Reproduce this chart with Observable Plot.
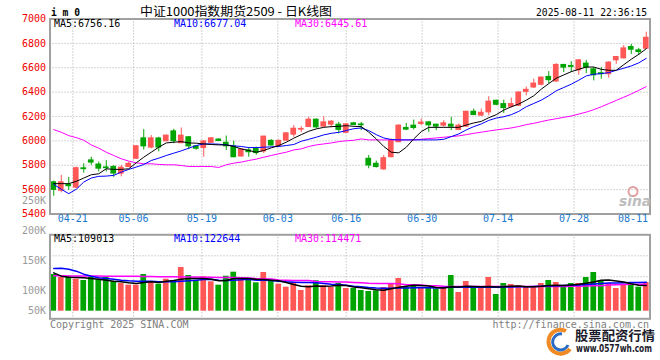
<!DOCTYPE html>
<html><head><meta charset="utf-8">
<script src="https://cdn.jsdelivr.net/npm/d3@7"></script>
<script src="https://cdn.jsdelivr.net/npm/@observablehq/plot@0.6"></script>
<style>
body{margin:0;background:#fff;}
#wrap{position:relative;width:660px;height:360px;overflow:hidden;background:#fff;}
#wrap svg{position:absolute;left:0;top:0;}
</style></head><body><div id="wrap"></div>
<script>
// ---- data ----
const tickLabels = ["04-21","05-06","05-19","06-03","06-16","06-30","07-14","07-28","08-11"];
const tickIndex  = [3, 11, 20, 30, 39, 49, 59, 69, 79];
const priceTicks = [5400, 5600, 5800, 6000, 6200, 6400, 6600, 6800, 7000];
const volTickValues = [250000, 200000, 150000, 100000, 50000];

const open = [5660,5590,5640,5616,5775,5840,5806,5782,5786,5731,
5786,5853,6021,5945,6020,5997,6078,5981,6030,5955,
5942,5984,6011,5984,5953,5872,5922,5933,5913,6000,
5955,6002,6051,6092,6114,6174,6117,6133,6133,6066,
6144,6135,5853,5812,5766,5866,5989,6106,6125,6139,
6152,6133,6125,6133,6090,6117,6239,6207,6234,6329,
6302,6280,6288,6402,6438,6460,6525,6487,6623,6615,
6579,6634,6587,6555,6547,6661,6677,6770,6743,6756];
const high = [5670,5717,5700,5785,5812,5866,5826,5838,5798,5798,
5825,5960,6092,6043,6030,6048,6095,6106,6035,5960,
6003,6028,6018,6040,5997,5935,5945,5948,6038,6010,
6008,6068,6125,6117,6193,6180,6198,6166,6152,6142,
6152,6152,5880,5834,5880,6016,6133,6144,6171,6179,
6155,6136,6166,6193,6139,6242,6261,6261,6362,6334,
6334,6351,6402,6443,6506,6525,6568,6634,6628,6650,
6666,6661,6601,6601,6650,6692,6783,6791,6759,6892];
const low = [5546,5574,5592,5610,5735,5800,5745,5745,5700,5705,
5780,5850,5925,5935,5910,5993,5978,5976,5928,5925,
5866,5980,5994,5921,5860,5866,5866,5882,5895,5958,
5945,5997,6030,6068,6111,6098,6111,6106,6057,6060,
6125,6084,5771,5777,5758,5861,5984,6084,6090,6125,
6071,6084,6111,6084,6084,6111,6207,6201,6206,6288,
6225,6269,6283,6370,6430,6451,6470,6481,6560,6560,
6538,6552,6492,6506,6514,6628,6672,6710,6702,6751];
const close = [5598,5660,5628,5776,5768,5822,5772,5776,5732,5780,
5812,5956,5955,6021,5945,6043,5998,6043,5955,5935,
5995,6021,5999,5955,5866,5929,5907,5900,6035,5962,
6000,6062,6100,6098,6174,6111,6152,6158,6090,6136,
6130,6128,5798,5785,5858,6003,6125,6092,6106,6150,
6128,6117,6144,6117,6125,6239,6212,6231,6322,6296,
6269,6302,6397,6419,6470,6519,6498,6623,6601,6607,
6661,6601,6538,6547,6642,6688,6759,6748,6729,6846];

const ma5 = [5649,5649,5649,5668,5695,5722,5730,5771,5766,5766,
5771,5820,5866,5907,5948,5983,5989,5994,5983,5981,
5975,5970,5967,5967,5954,5934,5921,5907,5921,5943,
5962,5989,6022,6051,6079,6098,6111,6117,6119,6125,
6119,6117,6071,6016,5954,5907,5902,5948,6016,6076,
6111,6111,6111,6111,6111,6130,6147,6160,6190,6215,
6253,6280,6302,6334,6370,6424,6470,6514,6541,6568,
6587,6606,6606,6587,6579,6579,6625,6670,6710,6756.16];
const ma10 = [5643,5603,5567,5603,5662,5695,5709,5711,5717,5744,
5766,5785,5806,5839,5858,5880,5899,5918,5940,5962,
5975,5975,5973,5967,5959,5954,5945,5945,5948,5951,
5954,5962,5970,5997,6013,6030,6049,6062,6070,6085,
6100,6106,6084,6051,6024,6011,6008,6008,6008,6008,
6008,6008,6013,6035,6057,6090,6117,6139,6168,6187,
6198,6215,6242,6280,6307,6334,6370,6411,6438,6465,
6498,6533,6547,6552,6560,6579,6596,6615,6640,6677.04];
const ma30 = [6092,6071,6043,6027,6005,5967,5940,5907,5880,5853,
5834,5820,5812,5812,5807,5804,5804,5798,5790,5790,
5790,5790,5782,5804,5817,5826,5839,5850,5866,5880,
5894,5907,5926,5934,5954,5967,5975,5983,5994,6001,
6005,6016,6008,6008,6008,6008,6008,6008,6008,6013,
6019,6024,6030,6035,6041,6051,6062,6071,6081,6090,
6098,6106,6118,6133,6144,6158,6171,6182,6193,6204,
6220,6236,6256,6280,6306,6332,6358,6385,6414,6445.61];

const volume = [155500,142800,148300,135600,130100,142800,134300,142800,124600,117400,
110200,110200,155500,124600,114400,135600,124600,185200,151300,128800,
145800,124600,110200,148300,165300,138600,138600,120300,164000,128800,
114400,101700,120300,87700,107600,128800,107600,100400,117400,96200,
96200,87700,83500,86400,100400,117400,138600,103400,107600,96200,
99200,93200,96200,151300,79200,125800,99200,99200,142800,70800,
117400,113100,107600,101700,101700,117400,130100,121600,101700,117400,
117400,142800,164000,130100,117400,96200,114400,114400,101700,121600];
const vma5 = [162500,148400,144200,142800,141400,138500,135700,131500,127200,124400,
120200,117400,121600,124400,121600,127200,130100,135700,138500,138500,
138500,135700,128700,130100,138500,138500,138500,135700,134300,131500,
128700,121600,113100,106000,103200,107000,106000,107000,110000,109000,
103000,99000,95000,91000,89000,95000,101000,106000,110000,109000,
107000,100000,98000,104000,103000,106000,105000,104000,105000,103000,
104000,106000,107000,104000,104000,106000,109000,110000,109000,111000,
114000,118000,124000,131000,132000,128000,124000,116000,110000,109013];
const vma10 = [180900,182300,178100,169600,156900,148400,141400,138500,135700,131500,
128700,127200,127200,127200,124400,124400,124400,127200,128700,131500,
134300,135700,131500,130100,131500,132900,135700,131500,131500,130100,
127200,124400,123000,121600,121600,120200,117400,114500,113100,110300,
106000,104000,100000,98000,97000,97000,98000,98000,99000,100000,
99000,98000,100000,102000,101000,102000,102000,101000,103000,102000,
103000,103000,104000,104000,105000,106000,107000,108000,109000,110000,
111000,113000,115000,117000,119000,120000,121000,122000,122000,122644];
const vma30 = [150000,149800,149600,149400,149200,149000,148800,148600,148400,148200,
148000,147600,147200,146800,146400,146000,145600,145200,144800,144400,
144000,143600,143200,142800,142400,142000,141000,138000,137000,136000,
132000,131000,130500,130000,130000,126000,125000,124500,124000,123500,
122000,121000,118000,117000,117000,117000,116000,112000,112000,111000,
108000,108000,106000,105000,105000,105000,104600,104600,104600,104600,
104600,104600,104600,104600,104600,104600,104600,104600,104600,105500,
106000,107000,108000,108000,111000,112000,113000,114000,114300,114471];

// ---- derived tables ----
const RED = "#ff5656", GREEN = "#00a400";
const N = close.length;
const candles = d3.range(N).map(i => ({i, o: open[i], h: high[i], l: low[i], c: close[i], v: volume[i],
  col: close[i] >= open[i] ? RED : GREEN}));
// sina spaces its date grid over (N-1) intervals of the plot width
const xTicks = tickIndex.map((k, j) => ({label: tickLabels[j], pos: k * N / (N - 1)}));
const priceGrid = priceTicks.slice(1, -1);
const MONO = "DejaVu Sans Mono";
const dotted = {stroke: "#aaa", strokeDasharray: "1,2"};
const common = {width: 660, height: 360, marginLeft: 49.5, marginRight: 10.5,
  style: {background: "transparent", overflow: "visible", fontFamily: MONO, fontSize: "10px"}};
const idx = (d, i) => i + 0.5;
const wrap = document.getElementById("wrap");

// ---- volume axis labels (sina clamps the lowest label to the bar baseline) ----
wrap.append(Plot.plot({...common, marginTop: 200, marginBottom: 49.3,
  x: {domain: [0, N], axis: null},
  y: {domain: [65500, 250000], clamp: true, axis: null},
  marks: [Plot.text(volTickValues, {y: d => d, text: d => d / 1000 + "K", frameAnchor: "left",
    textAnchor: "end", dx: -4, fill: "#9a9a9a", fontSize: 10, fontFamily: MONO})]
}));

// ---- volume panel ----
const volDomain = [-32200, 323700];
const volGrid = [1, 2, 3].map(k => volDomain[0] + (volDomain[1] - volDomain[0]) * k / 4);
wrap.append(Plot.plot({...common, marginTop: 234.3, marginBottom: 41.7,
  x: {domain: [0, N], axis: null},
  y: {domain: volDomain, axis: null},
  color: {type: "identity"},
  marks: [
    Plot.ruleY(volGrid, dotted),
    Plot.ruleX(xTicks, {x: "pos", ...dotted}),
    Plot.rect(candles, {x1: "i", x2: d => d.i + 1, y1: 0, y2: "v", fill: "col", insetLeft: 0.9, insetRight: 0.9}),
    Plot.line(vma30, {x: idx, y: d => d, stroke: "#ff00ff", strokeWidth: 1.5}),
    Plot.line(vma10, {x: idx, y: d => d, stroke: "#0000ff", strokeWidth: 1.5}),
    Plot.line(vma5, {x: idx, y: d => d, stroke: "#000", strokeWidth: 1.5}),
    Plot.frame({stroke: "#a0a0a0", strokeWidth: 2})
  ]
}));

// ---- price panel ----
wrap.append(Plot.plot({...common, marginTop: 18.5, marginBottom: 146.5,
  x: {domain: [0, N], axis: null},
  y: {domain: [5400, 7000], axis: null},
  color: {type: "identity"},
  marks: [
    Plot.ruleY(priceGrid, dotted),
    Plot.ruleX(xTicks, {x: "pos", ...dotted}),
    Plot.ruleX(candles, {x: d => d.i + 0.5, y1: "l", y2: "h", stroke: "col"}),
    Plot.rect(candles, {x1: "i", x2: d => d.i + 1, y1: d => Math.min(d.o, d.c), y2: d => Math.max(d.o, d.c),
      fill: "col", insetLeft: 0.9, insetRight: 0.9, insetTop: -0.5, insetBottom: -0.5}),
    Plot.line(ma30, {x: idx, y: d => d, stroke: "#ff00ff", strokeWidth: 1}),
    Plot.line(ma10, {x: idx, y: d => d, stroke: "#0000ff", strokeWidth: 1}),
    Plot.line(ma5, {x: idx, y: d => d, stroke: "#000", strokeWidth: 1}),
    Plot.frame({stroke: "#a0a0a0", strokeWidth: 2}),
    Plot.text(priceTicks, {y: d => d, text: d => String(d), frameAnchor: "left", textAnchor: "end",
      dx: -4, fill: "#ee0000", fontSize: 10, fontFamily: MONO}),
    Plot.text(xTicks.slice(0, -1), {x: "pos", text: "label", frameAnchor: "bottom", dy: 8,
      fill: "#1a78cc", fontSize: 10, fontFamily: MONO}),
    Plot.text(xTicks.slice(-1), {x: "pos", text: "label", frameAnchor: "bottom", dy: 8, textAnchor: "end",
      dx: -2, fill: "#1a78cc", fontSize: 10, fontFamily: MONO})
  ]
}));

// ---- titles, legends and captions ----
const svg = d3.select(wrap).append("svg").attr("width", 660).attr("height", 360);
function T(x, y, s, o = {}) {
  const t = svg.append("text").attr("x", x).attr("y", y).text(s)
    .attr("font-family", o.font || MONO).attr("font-size", o.size || 10)
    .attr("fill", o.fill || "#000").attr("text-anchor", o.anchor || "start");
  if (o.weight) t.attr("font-weight", o.weight);
  if (o.style) t.attr("font-style", o.style);
  if (o.len) t.attr("textLength", o.len).attr("lengthAdjust", "spacingAndGlyphs");
  return t;
}
T(51, 16, "i m 0", {size: 11, weight: "bold", len: 29});
T(140, 15.5, "中证1000指数期货2509 - 日K线图", {font: "Noto Sans CJK SC", size: 12, len: 192});
T(536, 16, "2025-08-11 22:36:15", {size: 10.5, len: 111});
T(54, 27, "MA5:" + ma5[N - 1].toFixed(2));
T(174, 27, "MA10:" + ma10[N - 1].toFixed(2), {fill: "#0000ff"});
T(295, 27, "MA30:" + ma30[N - 1].toFixed(2), {fill: "#ff00ff"});
T(54, 241.5, "MA5:" + vma5[N - 1]);
T(174, 241.5, "MA10:" + vma10[N - 1], {fill: "#0000ff"});
T(295, 241.5, "MA30:" + vma30[N - 1], {fill: "#ff00ff"});
T(50, 327.5, "Copyright 2025 SINA.COM", {fill: "#808080"});
T(649, 327.5, "http://finance.sina.com.cn", {fill: "#808080", anchor: "end"});
// sina watermark
svg.append("circle").attr("cx", 633).attr("cy", 191.5).attr("r", 4.5).attr("fill", "none")
  .attr("stroke", "#e2a0a0").attr("stroke-width", 2);
T(619, 206, "sina", {font: "DejaVu Sans", size: 14, weight: "bold", style: "italic", fill: "#bdbdbd", len: 32});
// site watermark
svg.append("path").attr("d", "M566,331 A12,12 0 1 0 570,349").attr("fill", "none")
  .attr("stroke", "#f08a24").attr("stroke-width", 4);
svg.append("path").attr("d", "M562,334 A8,8 0 1 0 568,345").attr("fill", "none")
  .attr("stroke", "#2a6cc4").attr("stroke-width", 3);
T(575, 340, "股票配资行情", {font: "Noto Sans CJK SC", size: 13, weight: "bold", fill: "#1a1a2a", len: 80});
T(576, 351.5, "www.0577wh.com", {font: "DejaVu Sans", size: 10, weight: "bold", fill: "#1a1a2a", len: 76});
</script></body></html>
